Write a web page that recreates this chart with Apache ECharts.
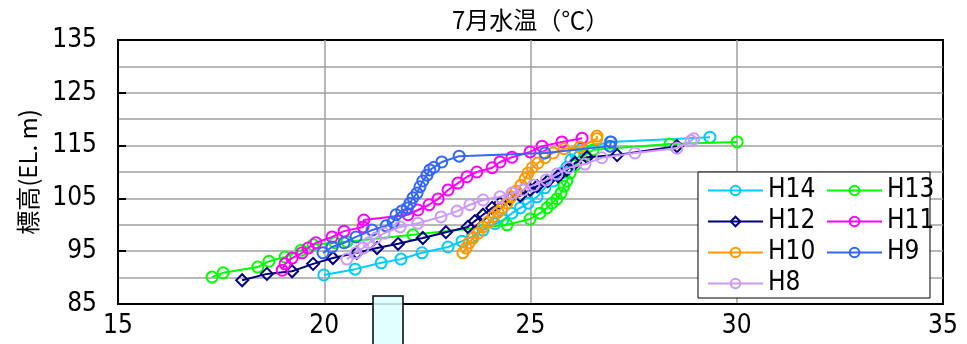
<!DOCTYPE html>
<html>
<head>
<meta charset="utf-8">
<script src="https://cdn.jsdelivr.net/npm/echarts@6/dist/echarts.min.js"></script>
<style>
  html, body { margin: 0; padding: 0; background: #fff; }
  #chart { width: 967px; height: 344px; }
</style>
</head>
<body>
<div id="chart"></div>
<script>
// July water temperature profiles (temperature °C vs elevation EL.m), one series per year
const seriesNames = ['H14', 'H13', 'H12', 'H11', 'H10', 'H9', 'H8'];
const seriesColors = ['#00CCFF', '#00FF00', '#000080', '#FF00FF', '#FF9900', '#3366FF', '#CC99FF'];

const h14Temp = [19.99, 20.75, 21.38, 21.86, 22.37, 23.00, 23.34, 23.58, 23.85, 24.14, 24.33, 24.55, 24.75, 24.94, 25.16, 25.35, 25.55, 25.76, 25.88, 25.98, 26.08, 26.25, 26.93, 29.35];
const h14Elev = [90.5, 91.6, 92.8, 93.5, 94.7, 95.8, 96.9, 97.7, 99.0, 100.2, 100.9, 102.2, 103.2, 104.1, 105.3, 107.0, 108.3, 109.8, 110.9, 112.3, 113.6, 114.5, 115.7, 116.6];

const h13Temp = [17.28, 17.55, 18.39, 18.66, 19.05, 19.44, 19.73, 20.26, 20.55, 22.15, 24.43, 24.99, 25.23, 25.40, 25.52, 25.64, 25.74, 25.81, 25.88, 25.96, 26.08, 26.32, 26.52, 28.38, 30.01];
const h13Elev = [90.1, 90.9, 92.0, 93.1, 93.9, 95.2, 96.2, 96.6, 96.8, 98.1, 100.0, 101.1, 102.2, 103.2, 104.1, 104.9, 106.0, 107.3, 108.3, 109.8, 111.3, 113.2, 114.2, 115.3, 115.7];

const h12Temp = [18.01, 18.61, 19.22, 19.73, 20.21, 20.79, 21.28, 21.79, 22.39, 22.95, 23.48, 23.65, 23.85, 24.07, 24.26, 24.50, 24.75, 24.99, 25.16, 25.42, 25.67, 25.88, 26.08, 26.37, 27.10, 28.55];
const h12Elev = [89.5, 90.7, 91.2, 92.6, 93.7, 94.7, 95.6, 96.4, 97.5, 98.6, 99.6, 100.7, 101.9, 103.2, 104.1, 104.9, 105.5, 106.6, 107.3, 108.3, 109.2, 110.4, 111.7, 112.8, 113.2, 114.9];

const h11Temp = [18.98, 19.05, 19.22, 19.46, 19.61, 19.80, 20.19, 20.48, 20.94, 20.96, 22.03, 22.27, 22.54, 22.76, 23.00, 23.24, 23.46, 23.70, 24.07, 24.26, 24.55, 24.99, 25.28, 25.76, 26.25];
const h11Elev = [91.4, 92.6, 93.7, 94.7, 95.6, 96.6, 97.7, 98.8, 99.6, 100.9, 101.9, 102.8, 103.8, 104.9, 106.6, 107.9, 109.1, 110.0, 110.8, 111.9, 112.8, 113.8, 114.9, 115.7, 116.4];

const h10Temp = [23.36, 23.44, 23.51, 23.61, 23.73, 23.85, 23.97, 24.09, 24.21, 24.31, 24.43, 24.53, 24.65, 24.77, 24.87, 24.94, 25.04, 25.18, 25.35, 25.55, 25.81, 26.20, 26.61, 26.61];
const h10Elev = [94.7, 95.6, 96.6, 97.5, 98.4, 99.6, 100.5, 101.5, 102.4, 103.2, 104.1, 105.3, 106.4, 107.5, 108.7, 109.8, 110.8, 111.7, 112.7, 113.6, 114.4, 114.7, 116.3, 116.8];

const h9Temp = [19.97, 20.19, 20.48, 20.77, 21.16, 21.50, 21.67, 21.74, 21.88, 22.01, 22.08, 22.15, 22.25, 22.32, 22.39, 22.49, 22.56, 22.66, 22.85, 23.27, 25.35, 26.93, 26.95];
const h9Elev = [94.7, 95.8, 96.6, 97.7, 99.0, 99.8, 100.5, 101.9, 102.6, 103.2, 104.1, 105.1, 106.0, 107.2, 108.3, 109.4, 110.4, 110.9, 111.9, 113.0, 113.6, 114.9, 115.7];

const h8Temp = [20.55, 20.77, 20.94, 21.08, 21.25, 21.45, 21.84, 22.27, 22.83, 23.22, 23.53, 23.85, 24.26, 24.55, 24.82, 25.08, 25.38, 25.64, 25.93, 26.32, 26.73, 27.53, 28.55, 28.89, 28.96];
const h8Elev = [93.5, 94.7, 95.6, 96.6, 97.5, 98.4, 99.6, 100.3, 101.5, 102.6, 103.8, 104.7, 105.3, 106.0, 106.6, 107.5, 108.5, 109.6, 110.8, 111.5, 112.7, 113.6, 114.5, 115.9, 116.3];

const temps = [h14Temp, h13Temp, h12Temp, h11Temp, h10Temp, h9Temp, h8Temp];
const elevs = [h14Elev, h13Elev, h12Elev, h11Elev, h10Elev, h9Elev, h8Elev];

const xTicks = { min: 15, max: 35, step: 5 };
const yTicks = { min: 85, max: 135, step: 10 };

const numFont = "'Liberation Sans Narrow', 'DejaVu Sans Condensed', 'Liberation Sans', sans-serif";
const cjkFont = "'Noto Sans CJK JP', 'Noto Sans', sans-serif";
const diamondPath = 'path://M0,-1L1,0L0,1L-1,0Z';

const series = seriesNames.map((name, i) => ({
  name: name,
  type: 'line',
  data: temps[i].map((t, k) => [t, elevs[i][k]]),
  symbol: name === 'H12' ? diamondPath : 'circle',
  symbolSize: name === 'H12' ? 12 : 11,
  showAllSymbol: true,
  lineStyle: { color: seriesColors[i], width: 2 },
  itemStyle: { color: 'rgba(255,255,255,0)', borderColor: seriesColors[i], borderWidth: 2 },
  emphasis: { disabled: true },
  z: 3 + i
}));

const chart = echarts.init(document.getElementById('chart'), null, { renderer: 'canvas' });

const legendText = { fontFamily: numFont, fontSize: 26, color: '#000', lineHeight: 27 };
const legendCommon = {
  orient: 'vertical',
  itemWidth: 55,
  itemHeight: 12,
  itemGap: 4,
  padding: 0,
  selectedMode: false,
  textStyle: legendText,
  z: 10
};

chart.setOption({
  animation: false,
  backgroundColor: '#fff',
  title: {
    text: '7月水温（℃）',
    left: 452,
    top: 8,
    padding: 0,
    textStyle: { fontFamily: cjkFont, fontSize: 24, fontWeight: 'normal', color: '#000' }
  },
  grid: {
    left: 118, right: 24, top: 40, bottom: 40,
    show: true, borderColor: '#000', borderWidth: 2, backgroundColor: 'transparent'
  },
  xAxis: {
    type: 'value',
    min: xTicks.min, max: xTicks.max, interval: xTicks.step,
    axisLine: { show: true, lineStyle: { color: '#000', width: 2 } },
    axisTick: { show: false },
    axisLabel: { fontFamily: numFont, fontSize: 26, color: '#000', margin: 9 },
    splitLine: { show: true, showMinLine: false, showMaxLine: false, lineStyle: { color: '#a0a0a0', width: 1.5 } }
  },
  yAxis: {
    type: 'value',
    min: yTicks.min, max: yTicks.max, interval: yTicks.step,
    name: '標高(EL. m)',
    nameLocation: 'middle',
    nameGap: 78,
    nameRotate: 90,
    nameTextStyle: { fontFamily: cjkFont, fontSize: 24, color: '#000' },
    axisLine: { show: true, lineStyle: { color: '#000', width: 2 } },
    axisTick: { show: true, inside: true, length: 8, lineStyle: { color: '#000', width: 2 } },
    axisLabel: { fontFamily: numFont, fontSize: 26, color: '#000', margin: 21 },
    splitLine: { show: true, showMinLine: false, showMaxLine: false, lineStyle: { color: '#a0a0a0', width: 1.5 } },
    minorTick: { show: false, splitNumber: 2 },
    minorSplitLine: { show: true, lineStyle: { color: '#a0a0a0', width: 1.5 } }
  },
  legend: [
    Object.assign({ data: ['H14', 'H12', 'H10', 'H8'], left: 707, top: 177 }, legendCommon),
    Object.assign({ data: ['H13', 'H11', 'H9'], left: 826, top: 177 }, legendCommon)
  ],
  graphic: [
    {
      type: 'rect',
      shape: { x: 698, y: 172, width: 232, height: 126 },
      style: { fill: '#fff', stroke: '#000', lineWidth: 1 },
      z: 1,
      silent: true
    },
    {
      type: 'rect',
      shape: { x: 373, y: 296, width: 30, height: 60 },
      style: { fill: 'rgba(220,255,255,0.85)', stroke: '#000', lineWidth: 1.5 },
      z: 20,
      silent: true
    }
  ],
  series: series
});
</script>
</body>
</html>
